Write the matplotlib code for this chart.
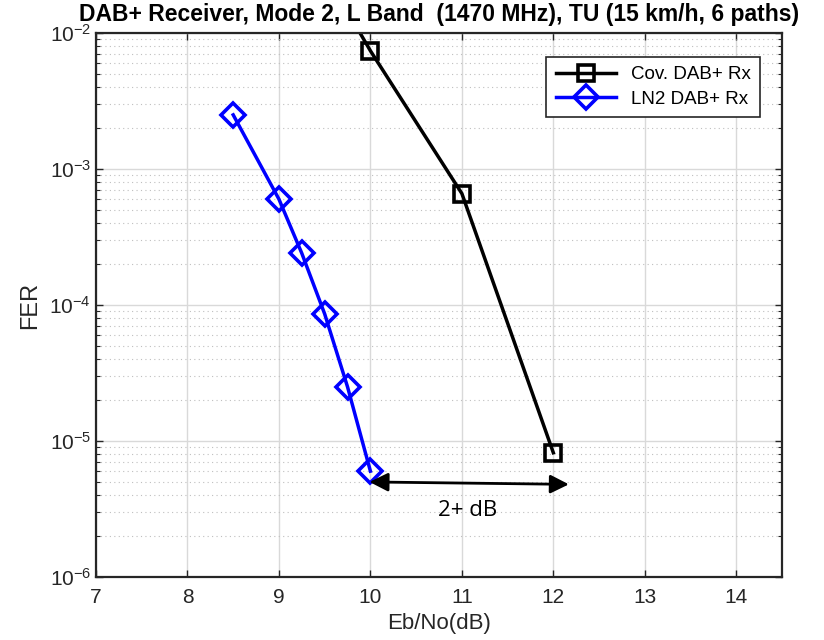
import matplotlib.pyplot as plt
from matplotlib.ticker import LogLocator, NullFormatter

# FER vs Eb/No for the two receivers
ebno_cov = [9.5, 10, 11, 12]
fer_cov = [2.8e-2, 7.4e-3, 6.6e-4, 8.2e-6]

ebno_ln2 = [8.5, 9.0, 9.25, 9.5, 9.75, 10.0]
fer_ln2 = [2.5e-3, 6.0e-4, 2.4e-4, 8.6e-5, 2.5e-5, 6.0e-6]

x_ticks = [7, 8, 9, 10, 11, 12, 13, 14]

plt.rcParams['font.family'] = ['Liberation Sans', 'DejaVu Sans']
plt.rcParams['mathtext.default'] = 'regular'

fig = plt.figure(figsize=(8.24, 6.4), dpi=100)
ax = fig.add_axes([96 / 824, 1 - 577 / 640, (782 - 96) / 824, (577 - 33) / 640])

ax.semilogy(ebno_cov, fer_cov, color='black', lw=2.5, marker='s', ms=11,
            mfc='none', mew=2.6, label='Cov. DAB+ Rx')
ax.semilogy(ebno_ln2, fer_ln2, color='#0000ff', lw=2.5, marker='D', ms=12,
            mfc='none', mew=2.6, label='LN2 DAB+ Rx')

# 2+ dB gap arrow
ax.annotate('', xy=(9.99, 5.0e-6), xytext=(12.17, 4.8e-6),
            arrowprops=dict(arrowstyle='<|-|>', color='black', lw=2,
                            mutation_scale=28, shrinkA=0, shrinkB=0))
ax.text(11.06, 3.1e-6, '2+ dB', family=['Open Sans', 'DejaVu Sans'],
        fontsize=16, ha='center', va='center')

ax.set_xlim(7, 14.5)
ax.set_ylim(1e-6, 1e-2)
ax.set_xticks(x_ticks)
ax.yaxis.set_major_locator(LogLocator(base=10, numticks=10))
ax.yaxis.set_minor_locator(LogLocator(base=10, subs=range(2, 10), numticks=20))
ax.yaxis.set_minor_formatter(NullFormatter())

ax.grid(True, which='major', color='#d9d9d9', lw=1, ls='-')
ax.grid(True, which='minor', axis='y', color='#bfbfbf', lw=0.8, ls=(0, (1, 3)))
ax.set_axisbelow(True)

ax.tick_params(which='both', direction='in', top=True, right=True,
               colors='#262626', labelsize=15)
ax.tick_params(which='major', length=5, width=1)
ax.tick_params(which='minor', length=3, width=0.8)
ax.tick_params(axis='x', pad=8)
for s in ax.spines.values():
    s.set_color('#262626')
    s.set_linewidth(1.6)

ax.set_xlabel('Eb/No(dB)', fontsize=16, color='#262626', labelpad=4)
ax.set_ylabel('FER', fontsize=17, color='#262626', labelpad=6)
ax.set_title('DAB+ Receiver, Mode 2, L Band  (1470 MHz), TU (15 km/h, 6 paths)',
             fontsize=16.5, fontweight='bold', pad=9)

leg = ax.legend(loc='upper right', bbox_to_anchor=(0.968, 0.956), borderaxespad=0,
                fontsize=13.5, fancybox=False, framealpha=1, edgecolor='#262626',
                handlelength=3.2, borderpad=0.5, labelspacing=0.4)
leg.get_frame().set_linewidth(1.2)

plt.savefig('out.png', dpi=100)
